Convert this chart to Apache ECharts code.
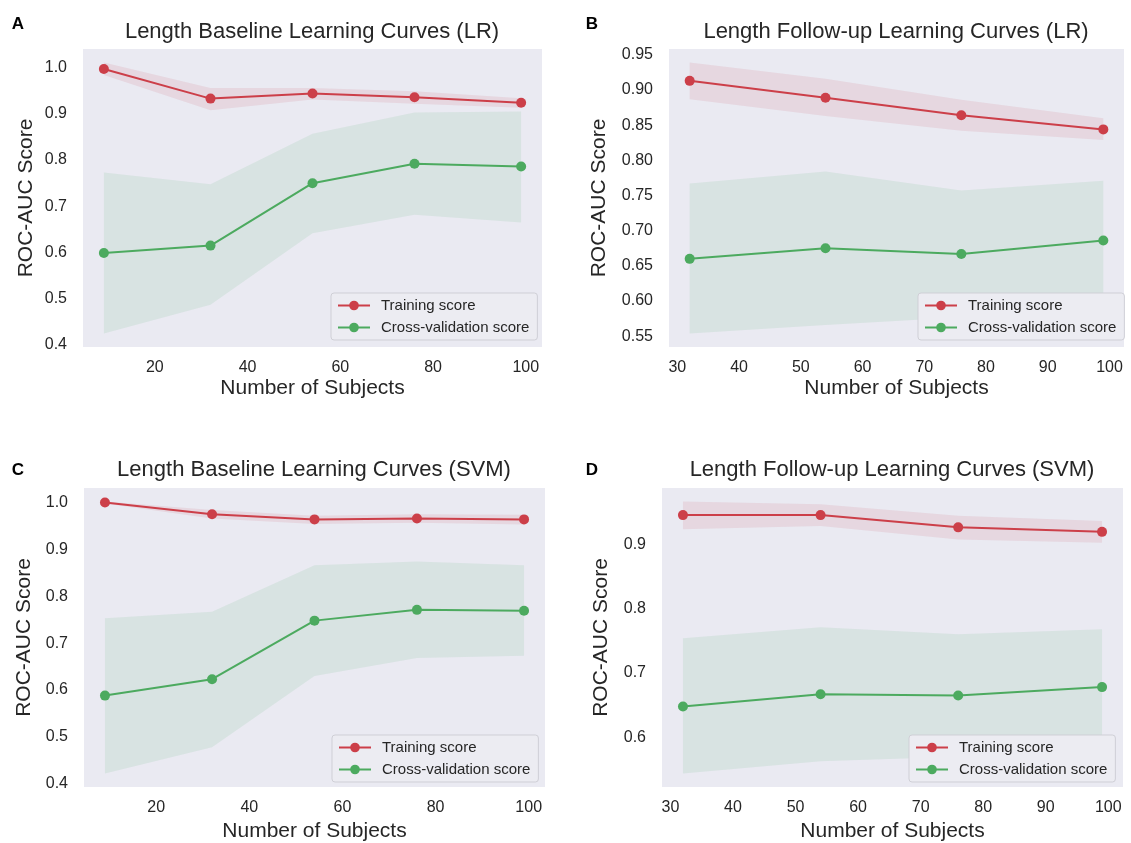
<!DOCTYPE html>
<html>
<head>
<meta charset="utf-8">
<script src="https://cdn.jsdelivr.net/npm/echarts@6/dist/echarts.min.js"></script>
<style>
html,body{margin:0;padding:0;background:#fff;}
#chart{width:1131px;height:843px;}
</style>
</head>
<body>
<div id="chart"></div>
<script>
// ---------- data ----------
const panelLetters = ['A', 'B', 'C', 'D'];
const panelTitles = [
  'Length Baseline Learning Curves (LR)',
  'Length Follow-up Learning Curves (LR)',
  'Length Baseline Learning Curves (SVM)',
  'Length Follow-up Learning Curves (SVM)'
];
const seriesNames = ['Training score', 'Cross-validation score'];
const xLabel = 'Number of Subjects';
const yLabel = 'ROC-AUC Score';

const subjectsBaseline = [9, 32, 54, 76, 99];
const subjectsFollowup = [32, 54, 76, 99];

const xTicksBaseline = [20, 40, 60, 80, 100];
const xTicksFollowup = [30, 40, 50, 60, 70, 80, 90, 100];
const yTicksA = [0.4, 0.5, 0.6, 0.7, 0.8, 0.9, 1.0];
const yTicksB = [0.55, 0.60, 0.65, 0.70, 0.75, 0.80, 0.85, 0.90, 0.95];
const yTicksC = [0.4, 0.5, 0.6, 0.7, 0.8, 0.9, 1.0];
const yTicksD = [0.6, 0.7, 0.8, 0.9];

// Panel A  (LR, baseline)
const trainA   = [0.997, 0.933, 0.944, 0.936, 0.924];
const trainALo = [0.984, 0.908, 0.931, 0.922, 0.913];
const trainAHi = [1.011, 0.956, 0.956, 0.949, 0.934];
const cvA      = [0.599, 0.615, 0.750, 0.792, 0.786];
const cvALo    = [0.425, 0.487, 0.642, 0.682, 0.665];
const cvAHi    = [0.773, 0.748, 0.857, 0.903, 0.905];

// Panel B  (LR, follow-up)
const trainB   = [0.913, 0.889, 0.864, 0.844];
const trainBLo = [0.887, 0.863, 0.842, 0.829];
const trainBHi = [0.939, 0.916, 0.886, 0.860];
const cvB      = [0.660, 0.675, 0.667, 0.686];
const cvBLo    = [0.554, 0.566, 0.577, 0.601];
const cvBHi    = [0.767, 0.784, 0.757, 0.771];

// Panel C  (SVM, baseline)
const trainC   = [1.000, 0.975, 0.964, 0.966, 0.964];
const trainCLo = [0.998, 0.966, 0.954, 0.957, 0.953];
const trainCHi = [1.002, 0.984, 0.972, 0.975, 0.974];
const cvC      = [0.588, 0.623, 0.748, 0.771, 0.769];
const cvCLo    = [0.422, 0.478, 0.630, 0.668, 0.673];
const cvCHi    = [0.753, 0.767, 0.866, 0.874, 0.866];

// Panel D  (SVM, follow-up)
const trainD   = [0.945, 0.945, 0.926, 0.919];
const trainDLo = [0.923, 0.928, 0.907, 0.902];
const trainDHi = [0.966, 0.962, 0.944, 0.936];
const cvD      = [0.648, 0.667, 0.665, 0.678];
const cvDLo    = [0.544, 0.563, 0.570, 0.588];
const cvDHi    = [0.754, 0.771, 0.760, 0.768];

// ---------- layout / style ----------
const FONT = "'Liberation Sans', Arial, sans-serif";
const TEXT = '#262626';
const RED = '#CC3F49';
const GREEN = '#4CAA5F';
const RED_BAND = 'rgba(200,60,80,0.11)';
const GREEN_BAND = 'rgba(70,170,100,0.11)';

const panels = [
  { x: subjectsBaseline, xt: xTicksBaseline, yt: yTicksA, dec: 1,
    tr: trainA, trLo: trainALo, trHi: trainAHi, cv: cvA, cvLo: cvALo, cvHi: cvAHi,
    grid: {left: 83, top: 49, width: 459, height: 298}, yGap: 46, xGap: 31, xMargin: 13,
    titleX: 312, titleY: 21, letter: [18, 25], legend: {left: 331, top: 293} },
  { x: subjectsFollowup, xt: xTicksFollowup, yt: yTicksB, dec: 2,
    tr: trainB, trLo: trainBLo, trHi: trainBHi, cv: cvB, cvLo: cvBLo, cvHi: cvBHi,
    grid: {left: 669, top: 49, width: 455, height: 298}, yGap: 59, xGap: 31, xMargin: 13,
    titleX: 896, titleY: 21, letter: [592, 25], legend: {left: 918, top: 293} },
  { x: subjectsBaseline, xt: xTicksBaseline, yt: yTicksC, dec: 1,
    tr: trainC, trLo: trainCLo, trHi: trainCHi, cv: cvC, cvLo: cvCLo, cvHi: cvCHi,
    grid: {left: 84, top: 488, width: 461, height: 300}, yGap: 49, xGap: 34, xMargin: 13,
    titleX: 314, titleY: 459, letter: [18, 471], legend: {left: 332, top: 735} },
  { x: subjectsFollowup, xt: xTicksFollowup, yt: yTicksD, dec: 1,
    tr: trainD, trLo: trainDLo, trHi: trainDHi, cv: cvD, cvLo: cvDLo, cvHi: cvDHi,
    grid: {left: 662, top: 488, width: 461, height: 300}, yGap: 50, xGap: 34, xMargin: 13,
    titleX: 892, titleY: 459, letter: [592, 471], legend: {left: 909, top: 735} }
];

function range(arrs, pad) {
  let mn = Infinity, mx = -Infinity;
  arrs.forEach(a => a.forEach(v => { mn = Math.min(mn, v); mx = Math.max(mx, v); }));
  const d = (mx - mn) * pad;
  return [mn - d, mx + d];
}
const zip = (xs, ys) => xs.map((x, i) => [x, ys[i]]);

function bandRender(color) {
  return function (params, api) {
    if (params.dataIndexInside !== 0) return null;
    const n = params.dataInsideLength;
    const upper = [], lower = [];
    for (let j = 0; j < n; j++) {
      const x = api.value(0, j);
      upper.push(api.coord([x, api.value(2, j)]));
      lower.push(api.coord([x, api.value(1, j)]));
    }
    return {
      type: 'polygon',
      shape: { points: upper.concat(lower.reverse()) },
      style: { fill: color, stroke: null },
      silent: true
    };
  };
}

const option = {
  animation: false,
  backgroundColor: '#ffffff',
  textStyle: { fontFamily: FONT, color: TEXT },
  title: [], grid: [], xAxis: [], yAxis: [], legend: [], series: []
};

panels.forEach((p, i) => {
  const yr = range([p.trLo, p.trHi, p.cvLo, p.cvHi], 0.05);
  const xr = range([p.x], 0.05);
  option.grid.push(Object.assign({ show: true, backgroundColor: '#EAEAF2', borderWidth: 0 }, p.grid));
  option.title.push({
    text: panelTitles[i], left: p.titleX, top: p.titleY, textAlign: 'center', padding: 0,
    textStyle: { fontFamily: FONT, fontSize: 22, fontWeight: 'normal', color: TEXT }
  });
  option.title.push({
    text: panelLetters[i], left: p.letter[0], top: p.letter[1] - 9, textAlign: 'center', padding: 0,
    textStyle: { fontFamily: FONT, fontSize: 17, fontWeight: 'bold', color: '#000' }
  });
  option.xAxis.push({
    type: 'value', gridIndex: i, min: xr[0], max: xr[1],
    name: xLabel, nameLocation: 'middle', nameGap: p.xGap,
    nameTextStyle: { fontFamily: FONT, fontSize: 21, color: TEXT },
    axisLine: { show: false }, axisTick: { show: false }, splitLine: { show: false },
    axisLabel: { customValues: p.xt, margin: p.xMargin, fontFamily: FONT, fontSize: 16, color: TEXT }
  });
  option.yAxis.push({
    type: 'value', gridIndex: i, min: yr[0], max: yr[1],
    name: yLabel, nameLocation: 'middle', nameGap: p.yGap,
    nameTextStyle: { fontFamily: FONT, fontSize: 21, color: TEXT },
    axisLine: { show: false }, axisTick: { show: false }, splitLine: { show: false },
    axisLabel: { customValues: p.yt, margin: 16, fontFamily: FONT, fontSize: 16, color: TEXT,
      formatter: v => v.toFixed(p.dec) }
  });
  [[p.trLo, p.trHi, RED_BAND, 't'], [p.cvLo, p.cvHi, GREEN_BAND, 'c']].forEach(([lo, hi, col, k]) => {
    option.series.push({
      type: 'custom', name: 'band-' + i + k, xAxisIndex: i, yAxisIndex: i,
      data: p.x.map((x, j) => [x, lo[j], hi[j]]),
      encode: { x: 0, y: [1, 2] },
      renderItem: bandRender(col), silent: true, z: 1, clip: true
    });
  });
  [[p.tr, RED, seriesNames[0]], [p.cv, GREEN, seriesNames[1]]].forEach(([vals, col, nm]) => {
    option.series.push({
      type: 'line', name: nm, xAxisIndex: i, yAxisIndex: i, data: zip(p.x, vals),
      symbol: 'circle', symbolSize: 10, itemStyle: { color: col },
      lineStyle: { color: col, width: 2 }, z: 3
    });
  });
  option.legend.push({
    data: seriesNames, orient: 'vertical', left: p.legend.left, top: p.legend.top,
    backgroundColor: '#ECECF2', borderColor: '#CFCFD6', borderWidth: 1, borderRadius: 3,
    padding: [5, 8, 5, 6], itemWidth: 32, itemHeight: 12, itemGap: 7,
    textStyle: { fontFamily: FONT, fontSize: 15, color: TEXT, padding: [0, 0, 0, 6] },
    selectedMode: false
  });
});

const chart = echarts.init(document.getElementById('chart'), null, { renderer: 'canvas' });
chart.setOption(option);
</script>
</body>
</html>
